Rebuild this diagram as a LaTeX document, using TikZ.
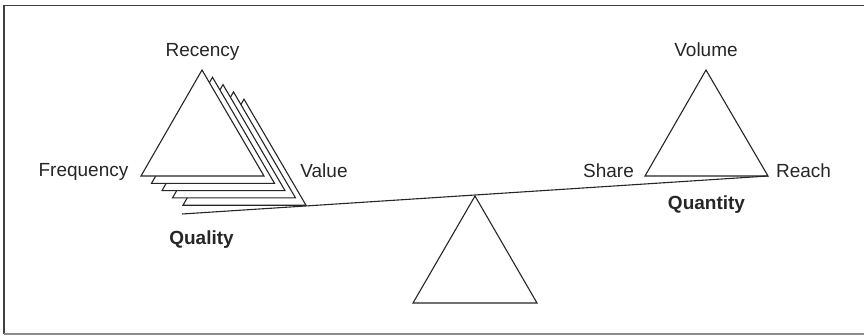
\documentclass[tikz,border=0pt]{standalone}
\usepackage{fontspec}
\setmainfont{Liberation Sans}
\begin{document}
\begin{tikzpicture}[x=1pt,y=-1pt,
  tri/.style={draw=black!85,fill=white,line width=1.1pt,line join=miter},
  lbl/.style={anchor=base,inner sep=0pt,text=black!85,font=\fontsize{19}{22}\selectfont},
  blbl/.style={lbl,font=\fontsize{19}{22}\selectfont\bfseries},
  beam/.style={draw=black!85,line width=1.1pt}]
\useasboundingbox (0,0) rectangle (864,335);
% frame (right edge lies outside the picture)
\draw[black!75,line width=1.6pt] (868,5.5) -- (3.8,5.5) -- (3.8,334);
\draw[black!45,line width=1.4pt] (3.8,334) -- (868,334);
% stacked quality triangles (back to front)
\foreach \k in {4,3,2,1} {
  \path[tri] (141+10.5*\k,176+7.3*\k) -- (202+10.5*\k,70+7.3*\k) -- (264+10.5*\k,176+7.3*\k) -- cycle;
}
\coordinate (qL) at (141,176);
\coordinate (qT) at (202,70);
\coordinate (qR) at (264,176);
\path[tri] (qL) -- (qT) -- (qR) -- cycle;
% quantity triangle
\coordinate (nL) at (645,176);
\coordinate (nT) at (706,70);
\coordinate (nR) at (768,176);
\path[tri] (nL) -- (nT) -- (nR) -- cycle;
% fulcrum
\coordinate (fT) at (475,196);
\coordinate (fL) at (413,303);
\coordinate (fR) at (537,303);
\path[tri] (fL) -- (fT) -- (fR) -- cycle;
% beam
\coordinate (bL) at (182,214);
\draw[beam] (bL) -- (nR);
% labels
\node[lbl] (recency) at (202.5,56) {Recency};
\node[lbl] (frequency) at (83.5,176.5) {Frequency};
\node[lbl] (value) at (324,177) {Value};
\node[blbl] (quality) at (201.5,244) {Quality};
\node[lbl] (volume) at (706,56) {Volume};
\node[lbl] (share) at (608.5,177) {Share};
\node[lbl] (reach) at (803.5,177) {Reach};
\node[blbl] (quantity) at (706.5,209) {Quantity};
\end{tikzpicture}
\end{document}
